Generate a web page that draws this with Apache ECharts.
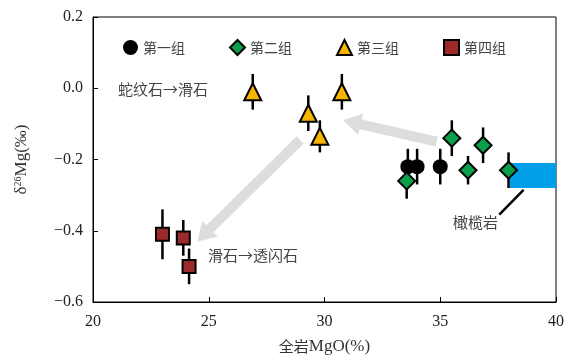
<!DOCTYPE html>
<html><head><meta charset="utf-8">
<script src="https://cdn.jsdelivr.net/npm/echarts@6/dist/echarts.min.js"></script>
<style>html,body{margin:0;padding:0;background:#fff}#c{width:567px;height:363px}</style>
</head><body><div id="c"></div>
<script>
const groupNames = ['第一组','第二组','第三组','第四组'];
const g1 = [[33.6,-0.22,0.05],[34.0,-0.22,0.05],[35.0,-0.22,0.05]];
const g2 = [[33.55,-0.26,0.05],[35.5,-0.14,0.05],[36.2,-0.23,0.04],[36.85,-0.16,0.05],[37.95,-0.23,0.05]];
const g3 = [[26.9,-0.01,0.05],[29.3,-0.07,0.05],[29.8,-0.135,0.045],[30.75,-0.01,0.05]];
const g4 = [[23.0,-0.41,0.07],[23.9,-0.42,0.05],[24.15,-0.50,0.05]];
const olivineRange = [38, 40, -0.21, -0.28];
const arrows = [[34.85,-0.15,30.8,-0.09],[28.95,-0.145,24.5,-0.43]];
const xTicks = [20,25,30,35,40];
const yTicks = [-0.6,-0.4,-0.2,0.0,0.2];

const serif = "'Liberation Serif', 'Times New Roman', serif";
const cjk = "'Noto Sans CJK SC', sans-serif";
const chart = echarts.init(document.getElementById('c'));

function errSeries(data){
  return {type:'custom', silent:true, z:1, data:data,
    renderItem:(p,api)=>{
      const x=api.value(0), y=api.value(1), e=api.value(2);
      const a=api.coord([x,y+e]), b=api.coord([x,y-e]);
      return {type:'line', shape:{x1:a[0],y1:a[1],x2:b[0],y2:b[1]}, style:{stroke:'#000',lineWidth:2.5}};
    }};
}
function scatter(name,data,symbol,size,color){
  return {type:'scatter', name:name, data:data.map(d=>[d[0],d[1]]), symbol:symbol, symbolSize:size, z:3,
    itemStyle:{color:color,borderColor:'#000',borderWidth:symbol==='circle'?0:2, opacity:1}};
}

chart.setOption({
  animation:false,
  textStyle:{fontFamily:serif},
  grid:{left:93,right:10,top:17,bottom:61,show:true,borderColor:'#000',borderWidth:1},
  legend:{top:34,left:118,itemGap:44,itemWidth:15,itemHeight:15,
    textStyle:{fontFamily:cjk,fontSize:14,color:'#444'},
    data:groupNames},
  xAxis:{type:'value',min:20,max:40,interval:5,
    name:'{c|全岩}{d|MgO(%)}',nameLocation:'middle',nameGap:36,
    nameTextStyle:{fontFamily:serif,fontSize:16,color:'#333',
      rich:{c:{fontFamily:cjk,fontSize:15,color:'#333'},d:{fontFamily:serif,fontSize:17,color:'#333'}}},
    axisLine:{onZero:false,lineStyle:{color:'#000'}},axisTick:{inside:true,length:5,lineStyle:{color:'#000'}},
    splitLine:{show:false},
    axisLabel:{fontFamily:serif,fontSize:16,color:'#222',margin:12,
      formatter:v=>'{n|'+v+'}',rich:{n:{fontFamily:serif,fontSize:16,color:'#222'}}}},
  yAxis:{type:'value',min:-0.6,max:0.2,interval:0.2,
    name:'{d|δ}{s|26}{d|Mg(‰)}',nameLocation:'middle',nameGap:62,nameRotate:90,
    nameTextStyle:{fontFamily:serif,fontSize:17,color:'#333',
      rich:{d:{fontFamily:serif,fontSize:17,color:'#333'},s:{fontFamily:serif,fontSize:10,color:'#333',verticalAlign:'top',padding:[0,0,8,0]}}},
    axisLine:{onZero:false,lineStyle:{color:'#000'}},axisTick:{inside:true,length:5,lineStyle:{color:'#000'}},
    splitLine:{show:false},
    axisLabel:{fontFamily:serif,fontSize:16,color:'#222',margin:10,
      formatter:v=>'{n|'+(v<0?'−':'')+Math.abs(v).toFixed(1)+'}',rich:{n:{fontFamily:serif,fontSize:16,color:'#222'}}}},
  series:[
    {type:'custom',silent:true,z:0,data:[olivineRange],
      renderItem:(p,api)=>{
        const a=api.coord([api.value(0),api.value(2)]), b=api.coord([api.value(1),api.value(3)]);
        return {type:'rect',shape:{x:a[0],y:a[1],width:b[0]-a[0],height:b[1]-a[1]},style:{fill:'#00a0e9'}};
      }},
    {type:'custom',silent:true,z:0,data:arrows,
      renderItem:(p,api)=>{
        const t=api.coord([api.value(0),api.value(1)]), h=api.coord([api.value(2),api.value(3)]);
        const dx=h[0]-t[0], dy=h[1]-t[1], L=Math.hypot(dx,dy);
        const ux=dx/L, uy=dy/L, nx=-uy, ny=ux;
        const sw=5, hw=11, hl=18;
        const bx=h[0]-ux*hl, by=h[1]-uy*hl;
        const pts=[[t[0]+nx*sw,t[1]+ny*sw],[bx+nx*sw,by+ny*sw],[bx+nx*hw,by+ny*hw],[h[0],h[1]],
          [bx-nx*hw,by-ny*hw],[bx-nx*sw,by-ny*sw],[t[0]-nx*sw,t[1]-ny*sw]];
        return {type:'polygon',shape:{points:pts},style:{fill:'#dcdddd'}};
      }},
    {type:'custom',silent:true,z:0,data:[[37.55,-0.355,38.6,-0.285]],
      renderItem:(p,api)=>{
        const a=api.coord([api.value(0),api.value(1)]), b=api.coord([api.value(2),api.value(3)]);
        return {type:'line',shape:{x1:a[0],y1:a[1],x2:b[0],y2:b[1]},style:{stroke:'#000',lineWidth:2.5}};
      }},
    errSeries(g1),errSeries(g2),errSeries(g3),errSeries(g4),
    scatter(groupNames[0],g1,'circle',15,'#000'),
    scatter(groupNames[1],g2,'diamond',17,'#0a9f48'),
    scatter(groupNames[2],g3,'triangle',17,'#f8b500'),
    scatter(groupNames[3],g4,'rect',13,'#9c2a2a')
  ],
  graphic:[
    {type:'text',left:118,top:82,style:{text:'蛇纹石→滑石',fontFamily:cjk,fontSize:15,fill:'#444'}},
    {type:'text',left:208,top:248,style:{text:'滑石→透闪石',fontFamily:cjk,fontSize:15,fill:'#444'}},
    {type:'text',left:453,top:215,style:{text:'橄榄岩',fontFamily:cjk,fontSize:15,fill:'#444'}}
  ]
});
</script></body></html>
